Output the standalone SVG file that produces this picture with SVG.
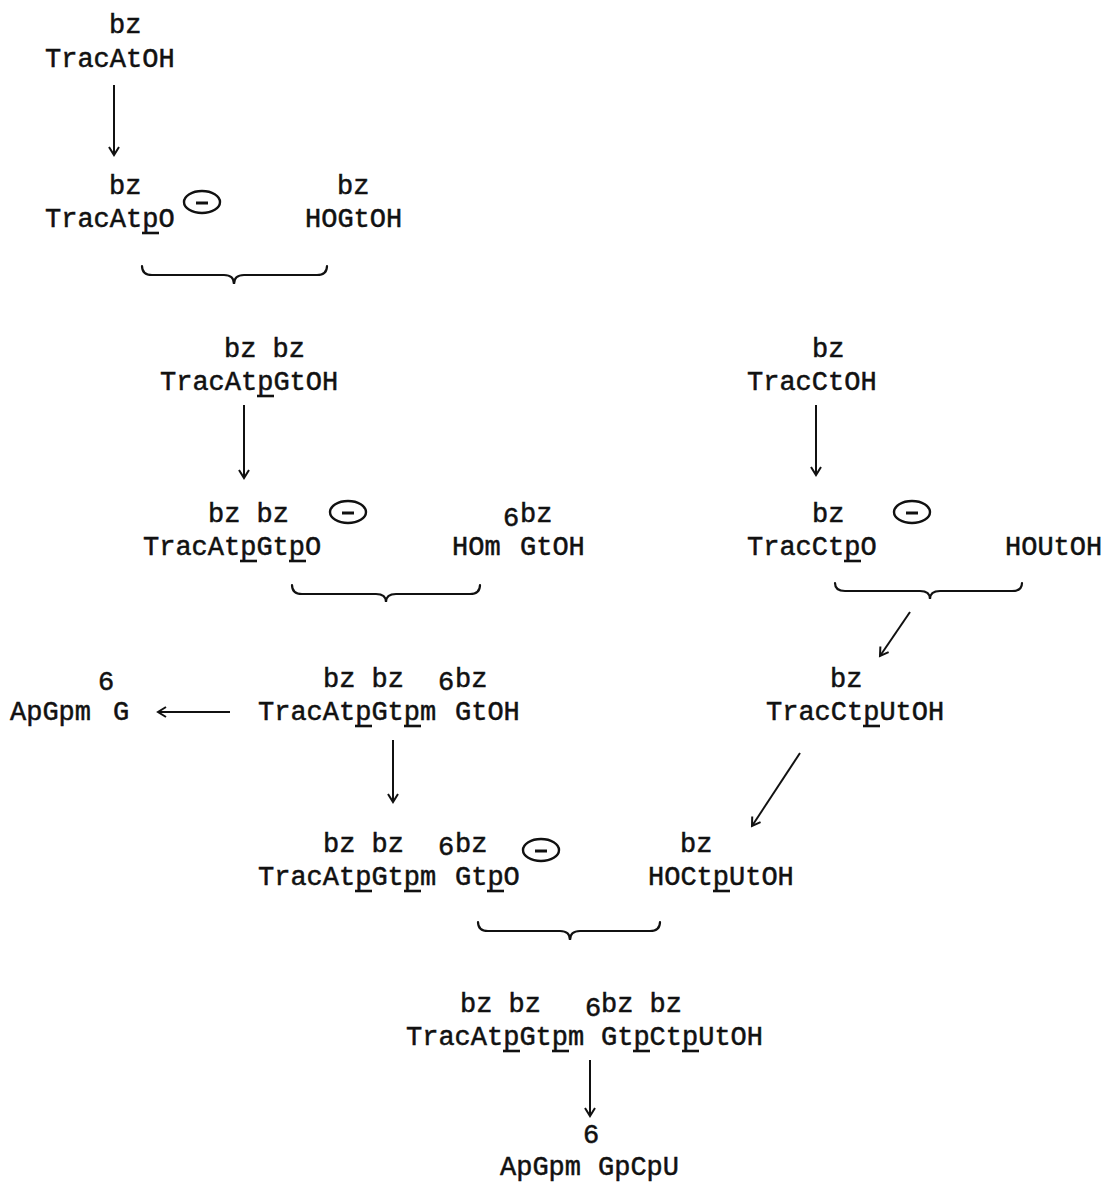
<svg xmlns="http://www.w3.org/2000/svg" width="1111" height="1182" viewBox="0 0 1111 1182">
  <style>
    .t { font-family: "Liberation Mono", "DejaVu Sans Mono", monospace; font-size: 27px; fill: #111; stroke: #111; stroke-width: 0.5; }
    .ul { stroke: #111; stroke-width: 2.6; }
    .ion { fill: none; stroke: #111; stroke-width: 2.4; }
    .minus { stroke: #111; stroke-width: 3; }
    .arrow { fill: none; stroke: #111; stroke-width: 2; marker-end: url(#ah); }
    .brace { fill: none; stroke: #111; stroke-width: 2.2; stroke-linecap: round; }
  </style>
  <defs>
    <marker id="ah" markerWidth="14" markerHeight="14" refX="11" refY="7" orient="auto" markerUnits="userSpaceOnUse">
      <path d="M3,2 L11,7 L3,12" fill="none" stroke="#111" stroke-width="2"/>
    </marker>
    <!-- anionic charge: oval with a minus sign -->
    <g id="anion">
      <ellipse class="ion" cx="0" cy="0" rx="18" ry="11"/>
      <line class="minus" x1="-6" y1="1" x2="6" y2="1"/>
    </g>
  </defs>

  <rect width="1111" height="1182" fill="#fff"/>

  <!-- Row A -->
  <g id="TracAtOH">
    <text class="t" x="109" y="33">bz</text>
    <text class="t" x="45" y="67">TracAtOH</text>
  </g>

  <!-- Row B -->
  <g id="TracAtpO">
    <text class="t" x="109" y="194">bz</text>
    <text class="t" x="45" y="227">TracAtpO</text>
    <line class="ul" x1="142" y1="233" x2="159" y2="233"/>
    <use href="#anion" x="202" y="202"/>
  </g>
  <g id="HOGtOH">
    <text class="t" x="337" y="194">bz</text>
    <text class="t" x="305" y="227">HOGtOH</text>
  </g>

  <!-- Row C -->
  <g id="TracAtpGtOH">
    <text class="t" x="224" y="357" xml:space="preserve">bz bz</text>
    <text class="t" x="160" y="390">TracAtpGtOH</text>
    <line class="ul" x1="257" y1="396" x2="274" y2="396"/>
  </g>
  <g id="TracCtOH">
    <text class="t" x="812" y="357">bz</text>
    <text class="t" x="747" y="390">TracCtOH</text>
  </g>

  <!-- Row D -->
  <g id="TracAtpGtpO">
    <text class="t" x="208" y="522" xml:space="preserve">bz bz</text>
    <text class="t" x="143" y="555">TracAtpGtpO</text>
    <line class="ul" x1="240" y1="561" x2="257" y2="561"/>
    <line class="ul" x1="289" y1="561" x2="306" y2="561"/>
    <use href="#anion" x="348" y="512"/>
  </g>
  <g id="HOm6GtOH">
    <text class="t" x="520" y="522">bz</text>
    <text class="t" x="452" y="555">HOm<tspan x="503" dy="-29">6</tspan><tspan x="520" dy="29">GtOH</tspan></text>
  </g>
  <g id="TracCtpO">
    <text class="t" x="812" y="522">bz</text>
    <text class="t" x="747" y="555">TracCtpO</text>
    <line class="ul" x1="844" y1="561" x2="861" y2="561"/>
    <use href="#anion" x="912" y="512"/>
  </g>
  <g id="HOUtOH">
    <text class="t" x="1005" y="555">HOUtOH</text>
  </g>

  <!-- Row E -->
  <g id="ApGpm6G">
    <text class="t" x="10" y="720">ApGpm<tspan x="98" dy="-30">6</tspan><tspan x="113" dy="30">G</tspan></text>
  </g>
  <g id="TracAtpGtpm6GtOH">
    <text class="t" x="323" y="687" xml:space="preserve">bz bz</text>
    <text class="t" x="455" y="687">bz</text>
    <text class="t" x="258" y="720">TracAtpGtpm<tspan x="438" dy="-30">6</tspan><tspan x="455" dy="30">GtOH</tspan></text>
    <line class="ul" x1="355" y1="726" x2="372" y2="726"/>
    <line class="ul" x1="404" y1="726" x2="421" y2="726"/>
  </g>
  <g id="TracCtpUtOH">
    <text class="t" x="830" y="687">bz</text>
    <text class="t" x="766" y="720">TracCtpUtOH</text>
    <line class="ul" x1="863" y1="726" x2="880" y2="726"/>
  </g>

  <!-- Row F -->
  <g id="TracAtpGtpm6GtpO">
    <text class="t" x="323" y="852" xml:space="preserve">bz bz</text>
    <text class="t" x="455" y="852">bz</text>
    <text class="t" x="258" y="885">TracAtpGtpm<tspan x="438" dy="-30">6</tspan><tspan x="455" dy="30">GtpO</tspan></text>
    <line class="ul" x1="355" y1="891" x2="372" y2="891"/>
    <line class="ul" x1="404" y1="891" x2="421" y2="891"/>
    <line class="ul" x1="487" y1="891" x2="504" y2="891"/>
    <use href="#anion" x="541" y="850"/>
  </g>
  <g id="HOCtpUtOH">
    <text class="t" x="680" y="852">bz</text>
    <text class="t" x="648" y="885">HOCtpUtOH</text>
    <line class="ul" x1="713" y1="891" x2="730" y2="891"/>
  </g>

  <!-- Row G -->
  <g id="TracAtpGtpm6GtpCtpUtOH">
    <text class="t" x="460" y="1012" xml:space="preserve">bz bz</text>
    <text class="t" x="601" y="1012" xml:space="preserve">bz bz</text>
    <text class="t" x="406" y="1045">TracAtpGtpm<tspan x="585" dy="-29">6</tspan><tspan x="601" dy="29">GtpCtpUtOH</tspan></text>
    <line class="ul" x1="503" y1="1051" x2="520" y2="1051"/>
    <line class="ul" x1="552" y1="1051" x2="569" y2="1051"/>
    <line class="ul" x1="633" y1="1051" x2="650" y2="1051"/>
    <line class="ul" x1="682" y1="1051" x2="699" y2="1051"/>
  </g>

  <!-- Row H -->
  <g id="ApGpm6GpCpU">
    <text class="t" x="500" y="1175">ApGpm<tspan x="583" dy="-32">6</tspan><tspan x="598" dy="32">GpCpU</tspan></text>
  </g>

  <!-- reaction arrows and coupling braces -->
  <g id="connectors">
    <line class="arrow" x1="114" y1="85" x2="114" y2="155"/>
    <line class="arrow" x1="244" y1="405" x2="244" y2="478"/>
    <line class="arrow" x1="816" y1="405" x2="816" y2="475"/>
    <line class="arrow" x1="910" y1="612" x2="880" y2="656"/>
    <line class="arrow" x1="230" y1="712" x2="158" y2="712"/>
    <line class="arrow" x1="393" y1="740" x2="393" y2="802"/>
    <line class="arrow" x1="800" y1="753" x2="752" y2="826"/>
    <line class="arrow" x1="590" y1="1060" x2="590" y2="1116"/>

    <path class="brace" d="M142,266 Q142,275 152,275 L224,275 Q234,275 234,284 Q234,275 244,275 L317,275 Q327,275 327,266"/>
    <path class="brace" d="M292,585 Q292,594 302,594 L376,594 Q386,594 386,602 Q386,594 396,594 L470,594 Q480,594 480,585"/>
    <path class="brace" d="M835,583 Q835,591 845,591 L920,591 Q930,591 930,599 Q930,591 940,591 L1012,591 Q1022,591 1022,583"/>
    <path class="brace" d="M478,922 Q478,931 488,931 L560,931 Q570,931 570,940 Q570,931 580,931 L650,931 Q660,931 660,922"/>
  </g>
</svg>
